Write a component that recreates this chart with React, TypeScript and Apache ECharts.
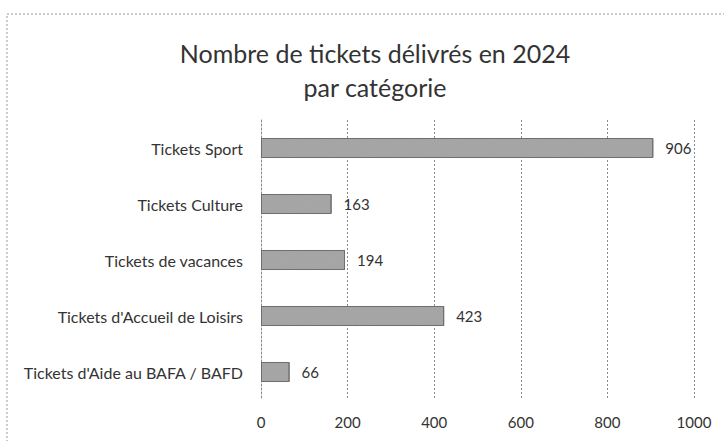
import React, { useEffect, useRef } from "react";
import * as echarts from "echarts";

const categories = [
  "Tickets Sport",
  "Tickets Culture",
  "Tickets de vacances",
  "Tickets d'Accueil de Loisirs",
  "Tickets d'Aide au BAFA / BAFD",
];
const values = [906, 163, 194, 423, 66];
const titleLines = ["Nombre de tickets délivrés en 2024", "par catégorie"];

export default function App() {
  const ref = useRef<HTMLDivElement>(null);
  useEffect(() => {
    document.body.style.margin = "0";
    const chart = echarts.init(ref.current!, null, { renderer: "svg" });
    const font = "Lato, 'Open Sans', sans-serif";
    chart.setOption({
      animation: false,
      backgroundColor: "#ffffff",
      title: {
        text: titleLines.join("\n"),
        left: 370,
        textAlign: "center",
        top: 31,
        textStyle: {
          fontFamily: font,
          fontSize: 25,
          fontWeight: 400,
          color: "#333",
          lineHeight: 34,
        },
      },
      graphic: [
        {
          type: "rect",
          shape: { x: 7, y: 14, width: 740, height: 450 },
          style: { fill: "none", stroke: "#999", lineWidth: 1, lineDash: [2, 2] },
          silent: true,
        },
      ],
      grid: { left: 261, right: 30, top: 120, bottom: 41, containLabel: false },
      xAxis: {
        type: "value",
        min: 0,
        max: 1000,
        interval: 200,
        axisLine: { show: false },
        axisTick: { show: false },
        splitLine: { show: true, lineStyle: { color: "#8a8a8a", type: [2, 2], width: 1 } },
        axisLabel: {
          fontFamily: font,
          fontSize: 15,
          color: "#333",
          margin: 14,
          formatter: (v: number) => String(v),
        },
      },
      yAxis: {
        type: "category",
        inverse: true,
        data: categories,
        axisLine: { show: true, lineStyle: { color: "#8a8a8a", type: [2, 2] } },
        axisTick: { show: false },
        axisLabel: { fontFamily: font, fontSize: 16, color: "#333", margin: 18 },
      },
      series: [
        {
          type: "bar",
          data: values,
          barWidth: 20,
          itemStyle: {
            color: "#a6a6a6",
            borderColor: "#6e6e6e",
            borderWidth: 1,
            decal: {
              symbol: "rect",
              symbolSize: 0.6,
              dashArrayX: [1, 2],
              dashArrayY: [1, 2],
              rotation: 0.6,
              color: "rgba(80,80,80,0.35)",
            },
          },
          label: {
            show: true,
            position: "right",
            distance: 12,
            fontFamily: font,
            fontSize: 15,
            color: "#333",
          },
        },
      ],
    });
    return () => chart.dispose();
  }, []);
  return (
    <div
      ref={ref}
      style={{ position: "fixed", left: 0, top: 0, width: 724, height: 441 }}
    />
  );
}
